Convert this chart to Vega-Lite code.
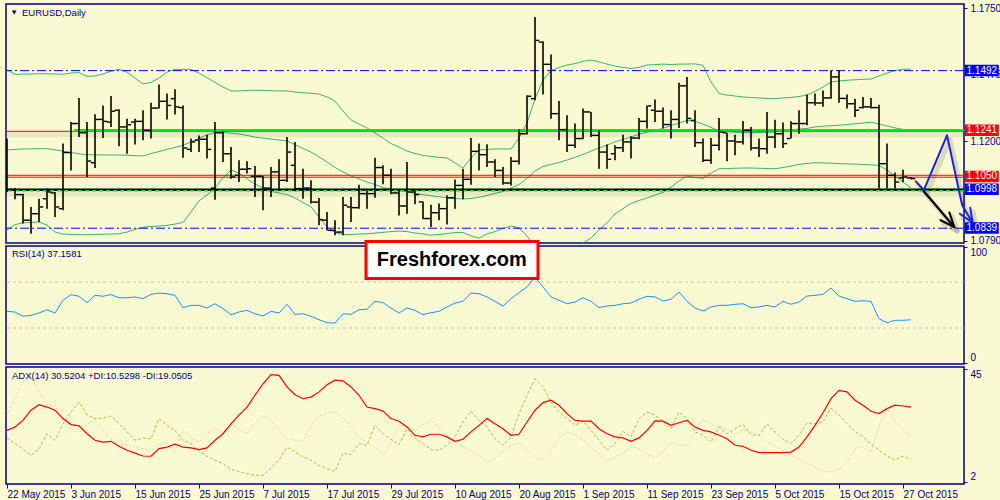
{
"$schema": "https://vega.github.io/schema/vega-lite/v6.json",
"background": "#fafad2",
"padding": {"left": 2, "top": 2, "right": 0, "bottom": 0},
"bounds": "flush",
"spacing": 3,
"config": {
  "view": {"stroke": "#000080", "strokeWidth": 1.5, "fill": "#fafad2"},
  "axis": {"labelFont": "Liberation Sans", "labelFontSize": 10, "labelColor": "#000080", "domainColor": "#000080", "tickColor": "#000080", "grid": false, "labelOverlap": false},
  "text": {"font": "Liberation Sans"}
},
"datasets": {
"bars": [
{"n":0,"date":"2015-05-22","o":1.1030,"h":1.1212,"l":1.0991,"c":1.1001,"up":1.1496,"mid":1.1165,"lo":1.0834,"rsi":44.5,"adx":21.6,"pdi":18.7,"mdi":27.4},
{"n":1,"date":"2015-05-25","o":1.1001,"h":1.1007,"l":1.0961,"c":1.0980,"up":1.1477,"mid":1.1167,"lo":1.0856,"rsi":43.9,"adx":22.9,"pdi":16.5,"mdi":33.7},
{"n":2,"date":"2015-05-26","o":1.0980,"h":1.0984,"l":1.0860,"c":1.0874,"up":1.1479,"mid":1.1169,"lo":1.0863,"rsi":40.2,"adx":25.4,"pdi":14.4,"mdi":40.1},
{"n":3,"date":"2015-05-27","o":1.0874,"h":1.0929,"l":1.0818,"c":1.0901,"up":1.1479,"mid":1.1169,"lo":1.0865,"rsi":41.0,"adx":29.3,"pdi":12.1,"mdi":41.6},
{"n":4,"date":"2015-05-28","o":1.0901,"h":1.0963,"l":1.0867,"c":1.0929,"up":1.1480,"mid":1.1170,"lo":1.0867,"rsi":43.0,"adx":31.4,"pdi":14.4,"mdi":36.3},
{"n":5,"date":"2015-05-29","o":1.0963,"h":1.1005,"l":1.0922,"c":1.0991,"up":1.1480,"mid":1.1170,"lo":1.0854,"rsi":45.9,"adx":30.5,"pdi":20.3,"mdi":31.2},
{"n":6,"date":"2015-06-01","o":1.0987,"h":1.0991,"l":1.0887,"c":1.0929,"up":1.1479,"mid":1.1165,"lo":1.0825,"rsi":43.0,"adx":29.3,"pdi":17.8,"mdi":31.2},
{"n":7,"date":"2015-06-02","o":1.0922,"h":1.1191,"l":1.0915,"c":1.1154,"up":1.1478,"mid":1.1160,"lo":1.0817,"rsi":54.1,"adx":26.1,"pdi":24.1,"mdi":25.1},
{"n":8,"date":"2015-06-03","o":1.1154,"h":1.1280,"l":1.1080,"c":1.1274,"up":1.1483,"mid":1.1154,"lo":1.0815,"rsi":59.0,"adx":23.8,"pdi":28.6,"mdi":22.2},
{"n":9,"date":"2015-06-04","o":1.1274,"h":1.1380,"l":1.1218,"c":1.1236,"up":1.1485,"mid":1.1149,"lo":1.0814,"rsi":57.6,"adx":23.3,"pdi":32.4,"mdi":20.7},
{"n":10,"date":"2015-06-05","o":1.1236,"h":1.1280,"l":1.1053,"c":1.1119,"up":1.1469,"mid":1.1145,"lo":1.0814,"rsi":52.0,"adx":20.3,"pdi":27.6,"mdi":24.1},
{"n":11,"date":"2015-06-08","o":1.1112,"h":1.1312,"l":1.1090,"c":1.1291,"up":1.1471,"mid":1.1145,"lo":1.0815,"rsi":58.4,"adx":17.8,"pdi":26.1,"mdi":25.4},
{"n":12,"date":"2015-06-09","o":1.1291,"h":1.1349,"l":1.1214,"c":1.1283,"up":1.1479,"mid":1.1144,"lo":1.0816,"rsi":57.6,"adx":17.1,"pdi":26.3,"mdi":21.6},
{"n":13,"date":"2015-06-10","o":1.1280,"h":1.1388,"l":1.1260,"c":1.1325,"up":1.1491,"mid":1.1144,"lo":1.0817,"rsi":59.0,"adx":17.4,"pdi":27.1,"mdi":18.2},
{"n":14,"date":"2015-06-11","o":1.1329,"h":1.1333,"l":1.1180,"c":1.1260,"up":1.1498,"mid":1.1144,"lo":1.0818,"rsi":56.3,"adx":15.5,"pdi":24.1,"mdi":16.5},
{"n":15,"date":"2015-06-12","o":1.1260,"h":1.1294,"l":1.1149,"c":1.1269,"up":1.1487,"mid":1.1143,"lo":1.0825,"rsi":56.3,"adx":14.0,"pdi":21.0,"mdi":15.9},
{"n":16,"date":"2015-06-15","o":1.1280,"h":1.1294,"l":1.1187,"c":1.1283,"up":1.1462,"mid":1.1141,"lo":1.0836,"rsi":57.0,"adx":12.9,"pdi":17.8,"mdi":15.3},
{"n":17,"date":"2015-06-16","o":1.1283,"h":1.1329,"l":1.1205,"c":1.1246,"up":1.1438,"mid":1.1140,"lo":1.0845,"rsi":55.5,"adx":11.8,"pdi":18.7,"mdi":14.6},
{"n":18,"date":"2015-06-17","o":1.1246,"h":1.1360,"l":1.1212,"c":1.1338,"up":1.1444,"mid":1.1150,"lo":1.0848,"rsi":59.3,"adx":11.7,"pdi":18.4,"mdi":13.6},
{"n":19,"date":"2015-06-18","o":1.1338,"h":1.1436,"l":1.1336,"c":1.1366,"up":1.1462,"mid":1.1158,"lo":1.0850,"rsi":60.4,"adx":14.6,"pdi":26.1,"mdi":16.5},
{"n":20,"date":"2015-06-19","o":1.1366,"h":1.1398,"l":1.1291,"c":1.1349,"up":1.1487,"mid":1.1167,"lo":1.0853,"rsi":59.8,"adx":15.2,"pdi":23.5,"mdi":16.5},
{"n":21,"date":"2015-06-22","o":1.1377,"h":1.1416,"l":1.1311,"c":1.1343,"up":1.1498,"mid":1.1175,"lo":1.0858,"rsi":58.4,"adx":16.3,"pdi":21.6,"mdi":13.6},
{"n":22,"date":"2015-06-23","o":1.1340,"h":1.1349,"l":1.1132,"c":1.1173,"up":1.1498,"mid":1.1184,"lo":1.0865,"rsi":47.7,"adx":15.2,"pdi":17.8,"mdi":21.6},
{"n":23,"date":"2015-06-24","o":1.1167,"h":1.1212,"l":1.1156,"c":1.1198,"up":1.1498,"mid":1.1198,"lo":1.0908,"rsi":49.7,"adx":14.9,"pdi":16.5,"mdi":18.7},
{"n":24,"date":"2015-06-25","o":1.1205,"h":1.1225,"l":1.1156,"c":1.1209,"up":1.1483,"mid":1.1214,"lo":1.0954,"rsi":49.7,"adx":14.2,"pdi":13.6,"mdi":17.1},
{"n":25,"date":"2015-06-26","o":1.1209,"h":1.1228,"l":1.1129,"c":1.1167,"up":1.1464,"mid":1.1227,"lo":1.0978,"rsi":47.4,"adx":14.9,"pdi":11.7,"mdi":20.3},
{"n":26,"date":"2015-06-29","o":1.1007,"h":1.1280,"l":1.0959,"c":1.1236,"up":1.1444,"mid":1.1237,"lo":1.1007,"rsi":51.1,"adx":17.8,"pdi":10.2,"mdi":22.6},
{"n":27,"date":"2015-06-30","o":1.1236,"h":1.1242,"l":1.1115,"c":1.1149,"up":1.1425,"mid":1.1237,"lo":1.1049,"rsi":46.8,"adx":20.3,"pdi":8.9,"mdi":20.7},
{"n":28,"date":"2015-07-01","o":1.1149,"h":1.1177,"l":1.1046,"c":1.1053,"up":1.1409,"mid":1.1234,"lo":1.1082,"rsi":41.6,"adx":24.1,"pdi":6.7,"mdi":23.5},
{"n":29,"date":"2015-07-02","o":1.1060,"h":1.1122,"l":1.1032,"c":1.1085,"up":1.1409,"mid":1.1231,"lo":1.1069,"rsi":43.9,"adx":27.4,"pdi":5.9,"mdi":22.2},
{"n":30,"date":"2015-07-03","o":1.1085,"h":1.1118,"l":1.1067,"c":1.1087,"up":1.1411,"mid":1.1225,"lo":1.1045,"rsi":45.4,"adx":30.5,"pdi":5.0,"mdi":20.3},
{"n":31,"date":"2015-07-06","o":1.1056,"h":1.1098,"l":1.0970,"c":1.1056,"up":1.1412,"mid":1.1218,"lo":1.1024,"rsi":42.4,"adx":35.0,"pdi":4.4,"mdi":24.1},
{"n":32,"date":"2015-07-07","o":1.1056,"h":1.1057,"l":1.0915,"c":1.1007,"up":1.1411,"mid":1.1214,"lo":1.1007,"rsi":40.4,"adx":39.4,"pdi":4.4,"mdi":27.4},
{"n":33,"date":"2015-07-08","o":1.1007,"h":1.1094,"l":1.0970,"c":1.1074,"up":1.1410,"mid":1.1210,"lo":1.0993,"rsi":44.5,"adx":42.9,"pdi":7.2,"mdi":25.4},
{"n":34,"date":"2015-07-09","o":1.1074,"h":1.1126,"l":1.0998,"c":1.1039,"up":1.1409,"mid":1.1206,"lo":1.0987,"rsi":43.0,"adx":42.6,"pdi":10.2,"mdi":21.6},
{"n":35,"date":"2015-07-10","o":1.1039,"h":1.1218,"l":1.1032,"c":1.1156,"up":1.1409,"mid":1.1202,"lo":1.0980,"rsi":50.6,"adx":38.2,"pdi":15.2,"mdi":18.4},
{"n":36,"date":"2015-07-13","o":1.1101,"h":1.1198,"l":1.0994,"c":1.1005,"up":1.1404,"mid":1.1187,"lo":1.0966,"rsi":41.9,"adx":35.2,"pdi":13.3,"mdi":17.8},
{"n":37,"date":"2015-07-14","o":1.1005,"h":1.1087,"l":1.0963,"c":1.1007,"up":1.1402,"mid":1.1171,"lo":1.0947,"rsi":42.4,"adx":33.7,"pdi":11.4,"mdi":17.8},
{"n":38,"date":"2015-07-15","o":1.1007,"h":1.1039,"l":1.0943,"c":1.0949,"up":1.1399,"mid":1.1156,"lo":1.0929,"rsi":40.2,"adx":34.3,"pdi":10.2,"mdi":23.5},
{"n":39,"date":"2015-07-16","o":1.0949,"h":1.0966,"l":1.0853,"c":1.0876,"up":1.1396,"mid":1.1136,"lo":1.0887,"rsi":37.2,"adx":36.3,"pdi":8.2,"mdi":27.1},
{"n":40,"date":"2015-07-17","o":1.0874,"h":1.0908,"l":1.0832,"c":1.0832,"up":1.1384,"mid":1.1115,"lo":1.0846,"rsi":34.6,"adx":39.0,"pdi":6.9,"mdi":28.2},
{"n":41,"date":"2015-07-20","o":1.0832,"h":1.0874,"l":1.0812,"c":1.0825,"up":1.1367,"mid":1.1092,"lo":1.0823,"rsi":34.3,"adx":40.8,"pdi":5.9,"mdi":28.6},
{"n":42,"date":"2015-07-21","o":1.0825,"h":1.0970,"l":1.0812,"c":1.0936,"up":1.1326,"mid":1.1074,"lo":1.0815,"rsi":42.4,"adx":40.5,"pdi":12.9,"mdi":26.3},
{"n":43,"date":"2015-07-22","o":1.0929,"h":1.0970,"l":1.0867,"c":1.0926,"up":1.1289,"mid":1.1057,"lo":1.0815,"rsi":41.9,"adx":38.2,"pdi":12.3,"mdi":23.3},
{"n":44,"date":"2015-07-23","o":1.0926,"h":1.1021,"l":1.0922,"c":1.0984,"up":1.1272,"mid":1.1045,"lo":1.0817,"rsi":45.9,"adx":35.0,"pdi":16.5,"mdi":18.7},
{"n":45,"date":"2015-07-24","o":1.0984,"h":1.0998,"l":1.0922,"c":1.0984,"up":1.1256,"mid":1.1032,"lo":1.0818,"rsi":46.3,"adx":30.5,"pdi":15.9,"mdi":17.1},
{"n":46,"date":"2015-07-27","o":1.0984,"h":1.1133,"l":1.0967,"c":1.1092,"up":1.1235,"mid":1.1022,"lo":1.0821,"rsi":53.2,"adx":29.9,"pdi":23.5,"mdi":15.1},
{"n":47,"date":"2015-07-28","o":1.1092,"h":1.1101,"l":1.1023,"c":1.1060,"up":1.1214,"mid":1.1009,"lo":1.0824,"rsi":52.0,"adx":29.0,"pdi":20.3,"mdi":12.3},
{"n":48,"date":"2015-07-29","o":1.1060,"h":1.1087,"l":1.0981,"c":1.0987,"up":1.1191,"mid":1.1002,"lo":1.0827,"rsi":47.4,"adx":26.1,"pdi":18.2,"mdi":16.5},
{"n":49,"date":"2015-07-30","o":1.0987,"h":1.0998,"l":1.0894,"c":1.0933,"up":1.1177,"mid":1.0997,"lo":1.0829,"rsi":43.0,"adx":25.1,"pdi":16.1,"mdi":23.5},
{"n":50,"date":"2015-07-31","o":1.0933,"h":1.1115,"l":1.0901,"c":1.0991,"up":1.1160,"mid":1.0992,"lo":1.0827,"rsi":47.4,"adx":22.9,"pdi":22.2,"mdi":22.9},
{"n":51,"date":"2015-08-03","o":1.0991,"h":1.0998,"l":1.0940,"c":1.0980,"up":1.1150,"mid":1.0985,"lo":1.0821,"rsi":45.4,"adx":19.7,"pdi":18.7,"mdi":21.6},
{"n":52,"date":"2015-08-04","o":1.0950,"h":1.0952,"l":1.0878,"c":1.0881,"up":1.1142,"mid":1.0980,"lo":1.0817,"rsi":41.6,"adx":19.1,"pdi":16.5,"mdi":23.8},
{"n":53,"date":"2015-08-05","o":1.0881,"h":1.0938,"l":1.0846,"c":1.0905,"up":1.1138,"mid":1.0975,"lo":1.0812,"rsi":43.3,"adx":20.1,"pdi":14.2,"mdi":25.4},
{"n":54,"date":"2015-08-06","o":1.0905,"h":1.0943,"l":1.0874,"c":1.0922,"up":1.1134,"mid":1.0971,"lo":1.0815,"rsi":44.5,"adx":20.1,"pdi":14.0,"mdi":22.9},
{"n":55,"date":"2015-08-07","o":1.0922,"h":1.0977,"l":1.0856,"c":1.0967,"up":1.1132,"mid":1.0967,"lo":1.0819,"rsi":48.3,"adx":19.1,"pdi":15.9,"mdi":19.1},
{"n":56,"date":"2015-08-10","o":1.0967,"h":1.1042,"l":1.0922,"c":1.1018,"up":1.1111,"mid":1.0964,"lo":1.0823,"rsi":51.7,"adx":17.4,"pdi":19.1,"mdi":17.1},
{"n":57,"date":"2015-08-11","o":1.1018,"h":1.1087,"l":1.0961,"c":1.1043,"up":1.1090,"mid":1.0962,"lo":1.0823,"rsi":53.2,"adx":18.2,"pdi":24.8,"mdi":15.2},
{"n":58,"date":"2015-08-12","o":1.1043,"h":1.1214,"l":1.1021,"c":1.1159,"up":1.1132,"mid":1.0964,"lo":1.0809,"rsi":60.4,"adx":21.0,"pdi":28.9,"mdi":14.0},
{"n":59,"date":"2015-08-13","o":1.1159,"h":1.1191,"l":1.1080,"c":1.1145,"up":1.1165,"mid":1.0969,"lo":1.0800,"rsi":59.8,"adx":23.5,"pdi":25.4,"mdi":12.1},
{"n":60,"date":"2015-08-14","o":1.1145,"h":1.1188,"l":1.1094,"c":1.1115,"up":1.1167,"mid":1.0976,"lo":1.0817,"rsi":57.0,"adx":26.1,"pdi":22.9,"mdi":9.5},
{"n":61,"date":"2015-08-17","o":1.1115,"h":1.1126,"l":1.1053,"c":1.1080,"up":1.1169,"mid":1.0985,"lo":1.0827,"rsi":53.2,"adx":24.1,"pdi":18.4,"mdi":10.8},
{"n":62,"date":"2015-08-18","o":1.1080,"h":1.1094,"l":1.1021,"c":1.1028,"up":1.1169,"mid":1.0993,"lo":1.0840,"rsi":49.1,"adx":22.2,"pdi":15.9,"mdi":13.6},
{"n":63,"date":"2015-08-19","o":1.1028,"h":1.1136,"l":1.1018,"c":1.1118,"up":1.1169,"mid":1.1007,"lo":1.0850,"rsi":55.5,"adx":19.7,"pdi":19.1,"mdi":15.9},
{"n":64,"date":"2015-08-20","o":1.1118,"h":1.1249,"l":1.1105,"c":1.1232,"up":1.1214,"mid":1.1022,"lo":1.0842,"rsi":60.7,"adx":20.1,"pdi":28.0,"mdi":16.5},
{"n":65,"date":"2015-08-21","o":1.1232,"h":1.1391,"l":1.1229,"c":1.1387,"up":1.1276,"mid":1.1047,"lo":1.0809,"rsi":65.7,"adx":24.8,"pdi":35.0,"mdi":14.0},
{"n":66,"date":"2015-08-24","o":1.1377,"h":1.1715,"l":1.1370,"c":1.1618,"up":1.1376,"mid":1.1078,"lo":1.0763,"rsi":74.3,"adx":29.3,"pdi":41.3,"mdi":11.0},
{"n":67,"date":"2015-08-25","o":1.1611,"h":1.1614,"l":1.1394,"c":1.1519,"up":1.1454,"mid":1.1096,"lo":1.0722,"rsi":65.7,"adx":32.2,"pdi":38.2,"mdi":10.4},
{"n":68,"date":"2015-08-26","o":1.1519,"h":1.1560,"l":1.1294,"c":1.1315,"up":1.1493,"mid":1.1105,"lo":1.0701,"rsi":57.0,"adx":33.1,"pdi":32.4,"mdi":13.3},
{"n":69,"date":"2015-08-27","o":1.1315,"h":1.1367,"l":1.1205,"c":1.1249,"up":1.1506,"mid":1.1113,"lo":1.0709,"rsi":54.1,"adx":31.2,"pdi":28.6,"mdi":19.1},
{"n":70,"date":"2015-08-28","o":1.1249,"h":1.1308,"l":1.1156,"c":1.1184,"up":1.1516,"mid":1.1123,"lo":1.0734,"rsi":51.1,"adx":28.0,"pdi":26.1,"mdi":21.0},
{"n":71,"date":"2015-08-31","o":1.1184,"h":1.1274,"l":1.1173,"c":1.1212,"up":1.1522,"mid":1.1134,"lo":1.0759,"rsi":52.6,"adx":25.4,"pdi":23.5,"mdi":19.9},
{"n":72,"date":"2015-09-01","o":1.1212,"h":1.1336,"l":1.1209,"c":1.1322,"up":1.1531,"mid":1.1146,"lo":1.0780,"rsi":56.3,"adx":25.1,"pdi":25.1,"mdi":17.8},
{"n":73,"date":"2015-09-02","o":1.1322,"h":1.1322,"l":1.1218,"c":1.1225,"up":1.1537,"mid":1.1160,"lo":1.0800,"rsi":53.2,"adx":25.1,"pdi":21.6,"mdi":14.6},
{"n":74,"date":"2015-09-03","o":1.1225,"h":1.1246,"l":1.1087,"c":1.1156,"up":1.1529,"mid":1.1173,"lo":1.0834,"rsi":47.7,"adx":22.2,"pdi":17.8,"mdi":12.7},
{"n":75,"date":"2015-09-04","o":1.1156,"h":1.1187,"l":1.1087,"c":1.1126,"up":1.1520,"mid":1.1185,"lo":1.0863,"rsi":49.1,"adx":20.3,"pdi":14.0,"mdi":9.5},
{"n":76,"date":"2015-09-07","o":1.1149,"h":1.1184,"l":1.1122,"c":1.1174,"up":1.1512,"mid":1.1198,"lo":1.0900,"rsi":49.7,"adx":19.1,"pdi":16.5,"mdi":11.4},
{"n":77,"date":"2015-09-08","o":1.1174,"h":1.1228,"l":1.1156,"c":1.1198,"up":1.1506,"mid":1.1208,"lo":1.0922,"rsi":51.1,"adx":18.7,"pdi":21.2,"mdi":13.1},
{"n":78,"date":"2015-09-09","o":1.1198,"h":1.1221,"l":1.1129,"c":1.1214,"up":1.1502,"mid":1.1218,"lo":1.0943,"rsi":51.7,"adx":17.4,"pdi":19.1,"mdi":15.2},
{"n":79,"date":"2015-09-10","o":1.1214,"h":1.1297,"l":1.1209,"c":1.1283,"up":1.1506,"mid":1.1230,"lo":1.0956,"rsi":55.0,"adx":18.7,"pdi":26.1,"mdi":14.6},
{"n":80,"date":"2015-09-11","o":1.1283,"h":1.1349,"l":1.1253,"c":1.1347,"up":1.1516,"mid":1.1238,"lo":1.0966,"rsi":57.6,"adx":21.6,"pdi":28.6,"mdi":12.3},
{"n":81,"date":"2015-09-14","o":1.1329,"h":1.1374,"l":1.1280,"c":1.1325,"up":1.1518,"mid":1.1246,"lo":1.0978,"rsi":57.0,"adx":25.2,"pdi":27.4,"mdi":11.0},
{"n":82,"date":"2015-09-15","o":1.1325,"h":1.1340,"l":1.1255,"c":1.1270,"up":1.1520,"mid":1.1254,"lo":1.0989,"rsi":53.5,"adx":25.1,"pdi":24.8,"mdi":13.3},
{"n":83,"date":"2015-09-16","o":1.1270,"h":1.1329,"l":1.1212,"c":1.1291,"up":1.1518,"mid":1.1266,"lo":1.1011,"rsi":55.0,"adx":23.5,"pdi":22.2,"mdi":17.1},
{"n":84,"date":"2015-09-17","o":1.1291,"h":1.1443,"l":1.1256,"c":1.1430,"up":1.1520,"mid":1.1276,"lo":1.1036,"rsi":61.3,"adx":24.5,"pdi":28.6,"mdi":15.9},
{"n":85,"date":"2015-09-18","o":1.1430,"h":1.1467,"l":1.1274,"c":1.1295,"up":1.1520,"mid":1.1287,"lo":1.1057,"rsi":53.2,"adx":25.4,"pdi":26.1,"mdi":15.9},
{"n":86,"date":"2015-09-21","o":1.1287,"h":1.1329,"l":1.1177,"c":1.1195,"up":1.1521,"mid":1.1283,"lo":1.1051,"rsi":47.4,"adx":22.9,"pdi":21.0,"mdi":21.0},
{"n":87,"date":"2015-09-22","o":1.1195,"h":1.1212,"l":1.1115,"c":1.1122,"up":1.1515,"mid":1.1272,"lo":1.1047,"rsi":44.8,"adx":21.6,"pdi":19.7,"mdi":25.8},
{"n":88,"date":"2015-09-23","o":1.1122,"h":1.1214,"l":1.1108,"c":1.1184,"up":1.1446,"mid":1.1258,"lo":1.1069,"rsi":48.3,"adx":21.0,"pdi":17.1,"mdi":24.1},
{"n":89,"date":"2015-09-24","o":1.1184,"h":1.1297,"l":1.1163,"c":1.1239,"up":1.1398,"mid":1.1244,"lo":1.1087,"rsi":49.7,"adx":19.7,"pdi":22.9,"mdi":23.1},
{"n":90,"date":"2015-09-25","o":1.1236,"h":1.1236,"l":1.1118,"c":1.1202,"up":1.1392,"mid":1.1241,"lo":1.1088,"rsi":49.7,"adx":18.4,"pdi":20.3,"mdi":22.2},
{"n":91,"date":"2015-09-28","o":1.1202,"h":1.1228,"l":1.1143,"c":1.1198,"up":1.1388,"mid":1.1238,"lo":1.1089,"rsi":50.6,"adx":15.9,"pdi":22.2,"mdi":19.7},
{"n":92,"date":"2015-09-29","o":1.1198,"h":1.1285,"l":1.1187,"c":1.1246,"up":1.1384,"mid":1.1237,"lo":1.1090,"rsi":51.1,"adx":15.5,"pdi":23.9,"mdi":22.0},
{"n":93,"date":"2015-09-30","o":1.1246,"h":1.1260,"l":1.1163,"c":1.1173,"up":1.1382,"mid":1.1236,"lo":1.1090,"rsi":47.7,"adx":14.0,"pdi":19.9,"mdi":21.0},
{"n":94,"date":"2015-10-01","o":1.1173,"h":1.1212,"l":1.1136,"c":1.1170,"up":1.1380,"mid":1.1237,"lo":1.1089,"rsi":48.3,"adx":13.1,"pdi":19.7,"mdi":19.7},
{"n":95,"date":"2015-10-02","o":1.1170,"h":1.1322,"l":1.1149,"c":1.1218,"up":1.1378,"mid":1.1238,"lo":1.1088,"rsi":49.7,"adx":13.1,"pdi":24.1,"mdi":17.1},
{"n":96,"date":"2015-10-05","o":1.1218,"h":1.1290,"l":1.1173,"c":1.1232,"up":1.1377,"mid":1.1240,"lo":1.1087,"rsi":48.3,"adx":13.1,"pdi":21.0,"mdi":15.6},
{"n":97,"date":"2015-10-06","o":1.1232,"h":1.1278,"l":1.1173,"c":1.1191,"up":1.1380,"mid":1.1243,"lo":1.1092,"rsi":53.2,"adx":13.1,"pdi":18.2,"mdi":14.0},
{"n":98,"date":"2015-10-07","o":1.1212,"h":1.1283,"l":1.1212,"c":1.1274,"up":1.1382,"mid":1.1247,"lo":1.1098,"rsi":50.6,"adx":13.3,"pdi":16.5,"mdi":12.1},
{"n":99,"date":"2015-10-08","o":1.1274,"h":1.1329,"l":1.1232,"c":1.1274,"up":1.1386,"mid":1.1251,"lo":1.1105,"rsi":52.6,"adx":15.2,"pdi":19.7,"mdi":10.5},
{"n":100,"date":"2015-10-09","o":1.1274,"h":1.1394,"l":1.1267,"c":1.1360,"up":1.1392,"mid":1.1254,"lo":1.1109,"rsi":57.8,"adx":19.1,"pdi":24.5,"mdi":8.9},
{"n":101,"date":"2015-10-12","o":1.1360,"h":1.1398,"l":1.1349,"c":1.1359,"up":1.1407,"mid":1.1260,"lo":1.1112,"rsi":58.4,"adx":23.5,"pdi":24.1,"mdi":7.6},
{"n":102,"date":"2015-10-13","o":1.1359,"h":1.1411,"l":1.1343,"c":1.1380,"up":1.1425,"mid":1.1263,"lo":1.1111,"rsi":59.3,"adx":28.3,"pdi":24.8,"mdi":5.9},
{"n":103,"date":"2015-10-14","o":1.1380,"h":1.1494,"l":1.1377,"c":1.1467,"up":1.1446,"mid":1.1265,"lo":1.1110,"rsi":64.8,"adx":33.7,"pdi":30.1,"mdi":5.7},
{"n":104,"date":"2015-10-15","o":1.1467,"h":1.1494,"l":1.1360,"c":1.1378,"up":1.1450,"mid":1.1267,"lo":1.1108,"rsi":57.8,"adx":36.9,"pdi":27.4,"mdi":6.7},
{"n":105,"date":"2015-10-16","o":1.1378,"h":1.1394,"l":1.1336,"c":1.1356,"up":1.1453,"mid":1.1270,"lo":1.1107,"rsi":55.5,"adx":36.3,"pdi":24.1,"mdi":9.5},
{"n":106,"date":"2015-10-19","o":1.1356,"h":1.1377,"l":1.1301,"c":1.1329,"up":1.1455,"mid":1.1273,"lo":1.1106,"rsi":53.2,"adx":33.1,"pdi":21.2,"mdi":14.6},
{"n":107,"date":"2015-10-20","o":1.1340,"h":1.1384,"l":1.1336,"c":1.1343,"up":1.1457,"mid":1.1276,"lo":1.1105,"rsi":53.7,"adx":31.2,"pdi":19.1,"mdi":15.2},
{"n":108,"date":"2015-10-21","o":1.1343,"h":1.1380,"l":1.1336,"c":1.1340,"up":1.1458,"mid":1.1280,"lo":1.1103,"rsi":53.2,"adx":28.9,"pdi":16.5,"mdi":13.1},
{"n":109,"date":"2015-10-22","o":1.1340,"h":1.1352,"l":1.1005,"c":1.1108,"up":1.1471,"mid":1.1272,"lo":1.1101,"rsi":38.1,"adx":28.0,"pdi":14.0,"mdi":23.5},
{"n":110,"date":"2015-10-23","o":1.1108,"h":1.1191,"l":1.1005,"c":1.1060,"up":1.1483,"mid":1.1264,"lo":1.1082,"rsi":34.6,"adx":29.9,"pdi":11.8,"mdi":29.9},
{"n":111,"date":"2015-10-26","o":1.1060,"h":1.1071,"l":1.1005,"c":1.1032,"up":1.1493,"mid":1.1256,"lo":1.1057,"rsi":36.7,"adx":31.2,"pdi":10.2,"mdi":25.4},
{"n":112,"date":"2015-10-27","o":1.1049,"h":1.1083,"l":1.1032,"c":1.1053,"up":1.1498,"mid":1.1250,"lo":1.1032,"rsi":36.7,"adx":30.9,"pdi":11.8,"mdi":21.6},
{"n":113,"date":"2015-10-28","o":1.1049,"h":1.1053,"l":1.1043,"c":1.1046,"up":1.1500,"mid":1.1246,"lo":1.1007,"rsi":37.2,"adx":30.5,"pdi":10.5,"mdi":19.1}
],
"levels": [
{"kind":"blue","p":1.1493},
{"kind":"blue","p":1.0841},
{"kind":"red","p":1.1242},
{"kind":"red","p":1.1060},
{"kind":"red","p":1.1052},
{"kind":"green","p":1.1246,"from":8.4,"to":119.625},
{"kind":"black","p":1.1000},
{"kind":"greendash","p":1.0996}
],
"tags": [
{"label":"1.1492","p":1.1493,"kind":"blue"},
{"label":"1.1241","p":1.1246,"kind":"red"},
{"label":"1.1050","p":1.1055,"kind":"red"},
{"label":"1.0998","p":1.1002,"kind":"blue"},
{"label":"1.0839","p":1.0842,"kind":"blue"}
],
"arrows": [
{"path":"blue","o":0,"n":113.6,"p":1.1035},
{"path":"blue","o":1,"n":114.6,"p":1.0998},
{"path":"blue","o":2,"n":117.5,"p":1.1225},
{"path":"blue","o":3,"n":119.4,"p":1.0936},
{"path":"blue","o":4,"n":120.7,"p":1.0864},
{"path":"blue head","o":0,"n":119.1,"p":1.0901},
{"path":"blue head","o":1,"n":120.7,"p":1.0864},
{"path":"blue head","o":2,"n":120.4,"p":1.0926},
{"path":"black","o":0,"n":114.6,"p":1.0994},
{"path":"black","o":1,"n":118.4,"p":1.0846},
{"path":"black head","o":0,"n":116.7,"p":1.0874},
{"path":"black head","o":1,"n":118.4,"p":1.0846},
{"path":"black head","o":2,"n":117.8,"p":1.0906}
],
"notes": [
{"panel":"price","t":"EURUSD,Daily"},
{"panel":"rsi","t":"RSI(14) 37.1581"},
{"panel":"adx","t":"ADX(14) 30.5204 +DI:10.5298 -DI:19.0505"},
{"panel":"banner","t":"Freshforex.com"}
],
"rsiLevels": [{"level":70},{"level":30}]
},
"vconcat": [
{
  "width": 958, "height": 239,
  "layer": [
    {"data":{"name":"bars"},"transform":[{"fold":["up","mid","lo"],"as":["band","v"]}],
     "mark":{"type":"line","stroke":"#3cb371","strokeWidth":1,"clip":true},
     "encoding":{
       "x":{"field":"n","type":"quantitative","scale":{"domain":[-0.125,119.625],"nice":false,"zero":false},"axis":null},
       "y":{"field":"v","type":"quantitative","scale":{"domain":[1.07798,1.17686],"nice":false,"zero":false},
            "axis":{"orient":"right","title":null,"values":[1.079,1.0925,1.12,1.1335,1.1475,1.1615,1.175],"format":".4f","tickSize":3,"labelPadding":3,"labelFontSize":10,"domain":false,"labelOverlap":false}},
       "detail":{"field":"band"}}},
    {"data":{"name":"levels"},"transform":[{"filter":"datum.kind==='green'||datum.kind==='black'"}],
     "mark":{"type":"rule","stroke":"#000000","strokeWidth":6,"opacity":0.07,"yOffset":4},
     "encoding":{"y":{"field":"p","type":"quantitative"}}},
    {"data":{"name":"levels"},"transform":[{"filter":"datum.kind==='blue'"}],
     "mark":{"type":"rule","stroke":"#0000ff","strokeWidth":1,"strokeDash":[9,3,2,3]},
     "encoding":{"y":{"field":"p","type":"quantitative"}}},
    {"data":{"name":"levels"},"transform":[{"filter":"datum.kind==='red'"}],
     "mark":{"type":"rule","stroke":"#ff0000","strokeWidth":1},
     "encoding":{"y":{"field":"p","type":"quantitative"}}},
    {"data":{"name":"levels"},"transform":[{"filter":"datum.kind==='green'"}],
     "mark":{"type":"rule","stroke":"#00ee00","strokeWidth":2.5},
     "encoding":{"x":{"field":"from","type":"quantitative"},"x2":{"field":"to"},"y":{"field":"p","type":"quantitative"}}},
    {"data":{"name":"levels"},"transform":[{"filter":"datum.kind==='black'"}],
     "mark":{"type":"rule","stroke":"#000000","strokeWidth":2.5},
     "encoding":{"y":{"field":"p","type":"quantitative"}}},
    {"data":{"name":"levels"},"transform":[{"filter":"datum.kind==='greendash'"}],
     "mark":{"type":"rule","stroke":"#00ee00","strokeWidth":1.5,"strokeDash":[4,3]},
     "encoding":{"y":{"field":"p","type":"quantitative"}}},
    {"data":{"name":"bars"},
     "mark":{"type":"rule","stroke":"#000000","strokeWidth":1.6,"clip":true},
     "encoding":{"x":{"field":"n","type":"quantitative"},"y":{"field":"l","type":"quantitative"},"y2":{"field":"h"}}},
    {"data":{"name":"bars"},
     "mark":{"type":"tick","orient":"horizontal","color":"#000000","opacity":1,"size":3.5,"thickness":1.4,"xOffset":-2.5,"clip":true},
     "encoding":{"x":{"field":"n","type":"quantitative"},"y":{"field":"o","type":"quantitative"}}},
    {"data":{"name":"bars"},
     "mark":{"type":"tick","orient":"horizontal","color":"#000000","opacity":1,"size":3.5,"thickness":1.4,"xOffset":2.5,"clip":true},
     "encoding":{"x":{"field":"n","type":"quantitative"},"y":{"field":"c","type":"quantitative"}}},
    {"data":{"name":"arrows"},
     "mark":{"type":"line","stroke":"#000000","strokeWidth":5,"opacity":0.12,"xOffset":3,"yOffset":4,"strokeCap":"round","strokeJoin":"round"},
     "encoding":{"x":{"field":"n","type":"quantitative"},"y":{"field":"p","type":"quantitative"},"detail":{"field":"path"},"order":{"field":"o"}}},
    {"data":{"name":"arrows"},"transform":[{"filter":"indexof(datum.path,'blue')===0"}],
     "mark":{"type":"line","stroke":"#1f1fe0","strokeWidth":2,"strokeCap":"round","strokeJoin":"round"},
     "encoding":{"x":{"field":"n","type":"quantitative"},"y":{"field":"p","type":"quantitative"},"detail":{"field":"path"},"order":{"field":"o"}}},
    {"data":{"name":"arrows"},"transform":[{"filter":"indexof(datum.path,'black')===0"}],
     "mark":{"type":"line","stroke":"#000000","strokeWidth":2.2,"strokeCap":"round","strokeJoin":"round"},
     "encoding":{"x":{"field":"n","type":"quantitative"},"y":{"field":"p","type":"quantitative"},"detail":{"field":"path"},"order":{"field":"o"}}},
    {"data":{"name":"tags"},
     "mark":{"type":"tick","orient":"horizontal","opacity":1,"size":34,"thickness":11.5},
     "encoding":{"x":{"datum":121.85},"y":{"field":"p","type":"quantitative"},
       "color":{"field":"kind","type":"nominal","scale":{"domain":["blue","red"],"range":["#0000ff","#ff0000"]},"legend":null}}},
    {"data":{"name":"tags"},
     "mark":{"type":"text","color":"#ffffff","fontSize":10,"align":"center","baseline":"middle","font":"Liberation Sans"},
     "encoding":{"x":{"datum":121.85},"y":{"field":"p","type":"quantitative"},"text":{"field":"label"}}},
    {"data":{"name":"notes"},"transform":[{"filter":"datum.panel==='price'"}],
     "mark":{"type":"point","shape":"triangle-down","filled":true,"color":"#000080","opacity":1,"size":22},
     "encoding":{"x":{"datum":0.9},"y":{"datum":1.1733}}},
    {"data":{"name":"notes"},"transform":[{"filter":"datum.panel==='price'"}],
     "mark":{"type":"text","color":"#000080","fontSize":9.5,"align":"left","baseline":"middle"},
     "encoding":{"x":{"datum":1.875},"y":{"datum":1.1731},"text":{"field":"t"}}}
  ]
},
{
  "width": 958, "height": 118,
  "layer": [
    {"data":{"name":"rsiLevels"},
     "mark":{"type":"rule","stroke":"#c0c0c0","strokeWidth":1,"strokeDash":[3,3]},
     "encoding":{"y":{"field":"level","type":"quantitative","scale":{"domain":[-1.3,101.3],"nice":false,"zero":false},
        "axis":{"orient":"right","title":null,"values":[0,30,70,100],"tickSize":3,"labelPadding":3,"domain":false,"labelOverlap":false,
          "labelBaseline":{"condition":[{"test":"datum.value >= 100","value":"top"},{"test":"datum.value <= 0","value":"bottom"}],"value":"middle"}}}}},
    {"data":{"name":"bars"},
     "mark":{"type":"line","stroke":"#1e90ff","strokeWidth":1},
     "encoding":{"x":{"field":"n","type":"quantitative","scale":{"domain":[-0.125,119.625],"nice":false,"zero":false},"axis":null},
       "y":{"field":"rsi","type":"quantitative"}}},
    {"data":{"name":"notes"},"transform":[{"filter":"datum.panel==='rsi'"}],
     "mark":{"type":"text","color":"#000080","fontSize":9.5,"align":"left","baseline":"middle"},
     "encoding":{"x":{"datum":0.625},"y":{"datum":94.3},"text":{"field":"t"}}},
    {"data":{"name":"notes"},"transform":[{"filter":"datum.panel==='banner'"}],
     "mark":{"type":"rect","fill":"#000000","opacity":0.18,"xOffset":3,"yOffset":3},
     "encoding":{"x":{"datum":44.875},"x2":{"datum":66.375},"y":{"datum":105.2},"y2":{"datum":73.0}}},
    {"data":{"name":"notes"},"transform":[{"filter":"datum.panel==='banner'"}],
     "mark":{"type":"rect","fill":"#ffffff","stroke":"#ff0000","strokeWidth":3},
     "encoding":{"x":{"datum":44.875},"x2":{"datum":66.375},"y":{"datum":105.2},"y2":{"datum":73.0}}},
    {"data":{"name":"notes"},"transform":[{"filter":"datum.panel==='banner'"}],
     "mark":{"type":"text","color":"#000000","fontSize":20,"fontWeight":"bold","align":"center","baseline":"middle"},
     "encoding":{"x":{"datum":55.6},"y":{"datum":89.1},"text":{"field":"t"}}}
  ]
},
{
  "width": 958, "height": 117,
  "layer": [
    {"data":{"name":"bars"},
     "mark":{"type":"line","stroke":"#f5c9a9","strokeWidth":1,"strokeDash":[2,2]},
     "encoding":{"x":{"field":"n","type":"quantitative","scale":{"domain":[-0.125,119.625],"nice":false,"zero":false},
        "axis":{"orient":"bottom","title":null,"values":[0,8,16,24,32,40,48,56,64,72,80,88,96,104,112],
          "labelExpr":"['22 May 2015','3 Jun 2015','15 Jun 2015','25 Jun 2015','7 Jul 2015','17 Jul 2015','29 Jul 2015','10 Aug 2015','20 Aug 2015','1 Sep 2015','11 Sep 2015','23 Sep 2015','5 Oct 2015','15 Oct 2015','27 Oct 2015'][round(datum.value/8)]",
          "labelAlign":"left","labelBaseline":"top","tickSize":4,"labelPadding":1,"domain":false,"labelFlush":false,"labelOverlap":false}},
       "y":{"field":"mdi","type":"quantitative","scale":{"domain":[1.09,45.81],"nice":false,"zero":false},
        "axis":{"orient":"right","title":null,"values":[2,45],"tickSize":3,"labelPadding":3,"domain":false,"labelOverlap":false,
          "labelBaseline":{"condition":[{"test":"datum.value >= 40","value":"top"},{"test":"datum.value <= 5","value":"bottom"}],"value":"middle"}}}}},
    {"data":{"name":"bars"},
     "mark":{"type":"line","stroke":"#9acd32","strokeWidth":1,"strokeDash":[3,2]},
     "encoding":{"x":{"field":"n","type":"quantitative"},"y":{"field":"pdi","type":"quantitative"}}},
    {"data":{"name":"bars"},
     "mark":{"type":"line","stroke":"#ff0000","strokeWidth":1.2},
     "encoding":{"x":{"field":"n","type":"quantitative"},"y":{"field":"adx","type":"quantitative"}}},
    {"data":{"name":"notes"},"transform":[{"filter":"datum.panel==='adx'"}],
     "mark":{"type":"text","color":"#000080","fontSize":9.5,"align":"left","baseline":"middle"},
     "encoding":{"x":{"datum":0.625},"y":{"datum":42.4},"text":{"field":"t"}}}
  ]
}
]
}
